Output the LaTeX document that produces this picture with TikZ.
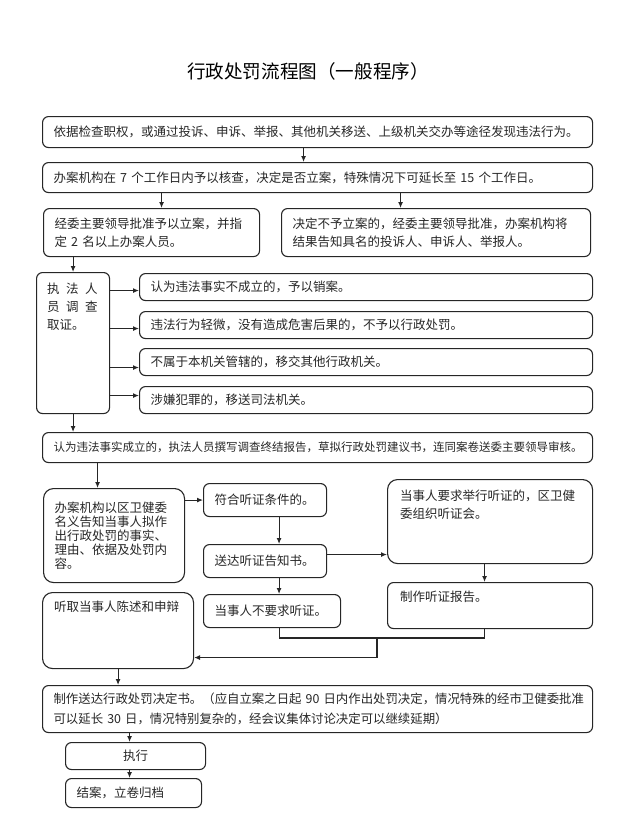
\documentclass[tikz,border=0pt]{standalone}
\usepackage{fontspec}
\setmainfont{Noto Sans CJK SC}
\usetikzlibrary{arrows.meta}

\begin{document}
\begin{tikzpicture}[x=1pt, y=-1pt,
    box/.style={draw=black!85, line width=1.1pt, rounded corners=6pt, anchor=north west,
        inner xsep=11pt, inner ysep=0pt, align=left, text=black!85,
        font=\fontsize{12.5}{18}\selectfont},
    txt/.style={anchor=north west, inner sep=0pt, align=left, text=black!85,
        font=\fontsize{12.5}{18}\selectfont},
    arr/.style={-{Latex[length=6pt,width=5pt]}, line width=1.1pt, draw=black!85},
    link/.style={line width=1.1pt, draw=black!85}]
    \useasboundingbox (0,0) rectangle (630,822);

    \node[font=\fontsize{18.6}{22}\selectfont] (title) at (308,71) {行政处罚流程图（一般程序）};

    % filing
    \node[box, minimum width=550pt, minimum height=31pt, text width=528pt] (find) at (42,116)
        {依据检查职权，或通过投诉、申诉、举报、其他机关移送、上级机关交办等途径发现违法行为。};
    \node[box, minimum width=550pt, minimum height=30pt, text width=528pt] (check) at (42,162)
        {办案机构在 7 个工作日内予以核查，决定是否立案，特殊情况下可延长至 15 个工作日。};
    \node[box, minimum width=216pt, minimum height=48pt, text width=194pt] (approve) at (43,208)
        {经委主要领导批准予以立案，并指\\定 2 名以上办案人员。};
    \node[box, minimum width=309pt, minimum height=48pt, text width=287pt] (reject) at (281,208)
        {决定不予立案的，经委主要领导批准，办案机构将\\结果告知具名的投诉人、申诉人、举报人。};

    % investigation
    \node[box, minimum width=73pt, minimum height=141pt] (investigate) at (36,272) {};
    \node[txt] (investigatetext) at ([shift={(11pt,-11pt)}]investigate.north west)
        {执\hspace{6.5pt}法\hspace{6.5pt}人\\员\hspace{6.5pt}调\hspace{6.5pt}查\\取证。};
    \node[box, minimum width=453pt, minimum height=27pt, text width=431pt] (r1) at (139,273)
        {认为违法事实不成立的，予以销案。};
    \node[box, minimum width=453pt, minimum height=27pt, text width=431pt] (r2) at (139,311)
        {违法行为轻微，没有造成危害后果的，不予以行政处罚。};
    \node[box, minimum width=453pt, minimum height=27pt, text width=431pt] (r3) at (139,348)
        {不属于本机关管辖的，移交其他行政机关。};
    \node[box, minimum width=453pt, minimum height=27pt, text width=431pt] (r4) at (139,386)
        {涉嫌犯罪的，移送司法机关。};
    \node[box, minimum width=550pt, minimum height=30pt, text width=528pt,
        font=\fontsize{11.5}{16}\selectfont] (judge) at (42,432)
        {认为违法事实成立的，执法人员撰写调查终结报告，草拟行政处罚建议书，连同案卷送委主要领导审核。};

    % hearing
    \node[box, rounded corners=10pt, minimum width=141pt, minimum height=94pt, text width=119pt,
        font=\fontsize{12.5}{14}\selectfont] (notify) at (43,488)
        {办案机构以区卫健委\\名义告知当事人拟作\\出行政处罚的事实、\\理由、依据及处罚内\\容。};
    \node[box, minimum width=123pt, minimum height=33pt, text width=101pt] (meet) at (203,483)
        {符合听证条件的。};
    \node[box, minimum width=123pt, minimum height=33pt, text width=101pt] (serve) at (203,544)
        {送达听证告知书。};
    \node[box, minimum width=137pt, minimum height=33pt, text width=115pt] (waive) at (203,594)
        {当事人不要求听证。};
    \node[box, rounded corners=10pt, minimum width=205pt, minimum height=84pt] (request) at (387,479) {};
    \node[txt] (requesttext) at ([shift={(13pt,-11pt)}]request.north west)
        {当事人要求举行听证的，区卫健\\委组织听证会。};
    \node[box, minimum width=205pt, minimum height=46pt] (report) at (387,582) {};
    \node[txt] (reporttext) at ([shift={(13pt,-9pt)}]report.north west) {制作听证报告。};
    \node[box, rounded corners=10pt, minimum width=151pt, minimum height=76pt] (hear) at (42,592) {};
    \node[txt] (heartext) at ([shift={(12pt,-9pt)}]hear.north west) {听取当事人陈述和申辩};

    % decision
    \node[box, minimum width=550pt, minimum height=47pt, text width=528pt,
        font=\fontsize{12.4}{20}\selectfont] (decide) at (42,685)
        {制作送达行政处罚决定书。（应自立案之日起 90 日内作出处罚决定，情况特殊的经市卫健委批准\\可以延长 30 日，情况特别复杂的，经会议集体讨论决定可以继续延期）};
    \node[box, minimum width=140pt, minimum height=27pt, text width=118pt, align=center] (enforce) at (65,742)
        {执行};
    \node[box, minimum width=136pt, minimum height=29pt, text width=114pt] (close) at (65,778)
        {结案，立卷归档};

    % connectors
    \draw[arr] ([xshift=-14pt]find.south) -- ([xshift=-14pt]find.south |- check.north);
    \draw[arr] ([xshift=10pt]approve.north |- check.south) -- ([xshift=10pt]approve.north);
    \draw[arr] ([xshift=-35.5pt]reject.north |- check.south) -- ([xshift=-35.5pt]reject.north);
    \draw[arr] (investigate.north |- approve.south) -- (investigate.north);
    \foreach \r/\dy in {r1/-3.5, r2/-3.5, r3/-5.5, r4/4.5}
        \draw[arr] ([yshift=\dy pt]\r.west -| investigate.east) -- ([yshift=\dy pt]\r.west);
    \draw[arr] (investigate.south) -- (investigate.south |- judge.north);
    \draw[arr] ([xshift=-16.5pt]notify.north |- judge.south) -- ([xshift=-16.5pt]notify.north);
    \draw[arr] (notify.east |- meet.west) -- (meet.west);
    \draw[arr] ([xshift=14pt]meet.south) -- ([xshift=14pt]meet.south |- serve.north);
    \draw[arr] ([xshift=14pt]serve.south) -- ([xshift=14pt]serve.south |- waive.north);
    \draw[arr] ([yshift=6.5pt]serve.east) -- ([yshift=6.5pt]serve.east -| request.west);
    \draw[arr] ([xshift=-5.5pt]request.south) -- ([xshift=-5.5pt]request.south |- report.north);
    \coordinate (join) at (377,638);
    \draw[link] ([xshift=7.5pt]waive.south) |- (join) -| ([xshift=-5.5pt]report.south);
    \draw[arr] (join) |- ([yshift=-27pt]hear.east);
    \draw[arr] (hear.south) -- (hear.south |- decide.north);
    \draw[arr] ([xshift=-6pt]enforce.north |- decide.south) -- ([xshift=-6pt]enforce.north);
    \draw[arr] ([xshift=-6pt]enforce.south) -- ([xshift=-6pt]enforce.south |- close.north);
\end{tikzpicture}
\end{document}
